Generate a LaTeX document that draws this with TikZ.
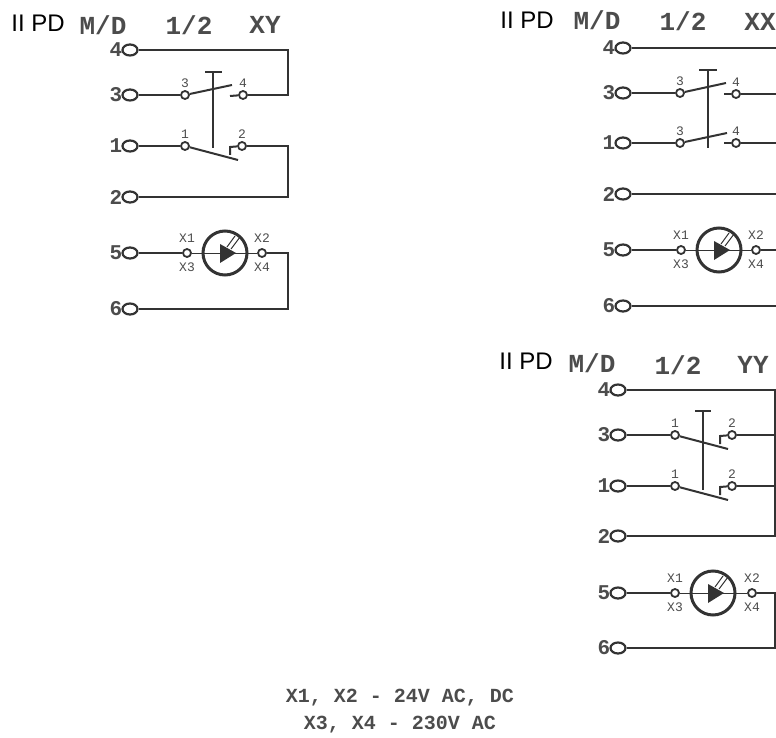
\documentclass[tikz,border=0pt]{standalone}
\usepackage{fontspec}
\setmainfont{Liberation Sans}
\setmonofont{Liberation Mono}
\usetikzlibrary{positioning, shapes.geometric}
\definecolor{inkgray}{gray}{0.2}
\definecolor{textgray}{gray}{0.3}
\newcommand{\lampmark}[1]{
    \begin{scope}[shift={(#1)}]
        \fill [inkgray] (-5,-9) -- (11,0) -- (-5,10) -- cycle;
        \draw [inkgray, line width=1pt] (2,-6) -- (10,-17);
        \draw [inkgray, line width=1pt] (6,-4) -- (15,-16);
    \end{scope}
}
\tikzset{
    wire/.style={draw=inkgray, line width=2pt},
    term/.style={draw=inkgray, ellipse, line width=2.2pt, minimum width=15pt, minimum height=11pt, inner sep=0pt, label={[rowlabel]left:#1}},
    rowlabel/.style={font=\fontsize{21}{21}\ttfamily\bfseries, text=textgray, inner sep=0pt, label distance=-1pt},
    pin/.style={draw=inkgray, circle, line width=1.8pt, minimum size=8pt, inner sep=0pt, label={[pinlabel]above:#1}},
    pinlabel/.style={font=\fontsize{13}{13}\ttfamily, text=textgray, inner sep=0pt, label distance=2pt},
    xpin/.style 2 args={draw=inkgray, circle, line width=1.8pt, minimum size=8pt, inner sep=0pt, label={[pinlabel, label distance=5pt]above:#1}, label={[pinlabel, label distance=5pt]below:#2}},
    lampbox/.style={draw=inkgray, circle, line width=3pt, minimum size=44pt, inner sep=0pt},
    head/.style={font=\fontsize{26}{26}\ttfamily\bfseries, text=textgray, inner sep=0pt},
    kind/.style={font=\fontsize{24}{24}\selectfont, inner sep=0pt},
    note/.style={font=\fontsize{20}{20}\ttfamily\bfseries, text=textgray, inner sep=0pt}
}

\begin{document}
\begin{tikzpicture}[x=1pt, y=-1pt]
    \useasboundingbox (0,0) rectangle (776,738);

    % XY panel
    \node [kind] (xykind) at (38,23) {II PD};
    \node [head] (xyhead1) at (103,25) {M/D};
    \node [head] (xyhead2) at (189,25) {1/2};
    \node [head] (xyhead3) at (265,25) {XY};
    \node [term=4] (xy4) at (130,50) {};
    \node [term=3] (xy3) at (130,95) {};
    \node [term=1] (xy1) at (130,146) {};
    \node [term=2] (xy2) at (130,197) {};
    \node [term=5] (xy5) at (130,253) {};
    \node [term=6] (xy6) at (130,309) {};
    \node [pin=3] (xya3) at (185,95) {};
    \node [pin=4] (xyb3) at (243,95) {};
    \node [pin=1] (xya1) at (185,146) {};
    \node [pin=2] (xyb1) at (242,146) {};
    \node [xpin={X1}{X3}] (xyx1) at (187,253) {};
    \node [xpin={X2}{X4}] (xyx2) at (262,253) {};
    \node [lampbox] (xylamp) at (225,253) {};
    \coordinate (xyedge) at (288,0);
    \coordinate (xylever3) at (232,85);
    \coordinate (xylever1) at (238,160);
    \coordinate (xystub) at (230,96);
    \coordinate (xyhook1) at (230,147);
    \coordinate (xyhook2) at (230,155);
    \coordinate (xytop) at (213,72);
    \coordinate (xylow) at (213,148);
    \draw [wire] (xy4) -- (xy4 -| xyedge) -- (xyb3 -| xyedge) -- (xyb3);
    \draw [wire] (xy3) -- (xya3);
    \draw [wire] (xya3) -- (xylever3);
    \draw [wire] (xyb3) -- (xystub);
    \draw [wire] (xy1) -- (xya1);
    \draw [wire] (xya1) -- (xylever1);
    \draw [wire] (xyb1) -- (xyhook1) -- (xyhook2);
    \draw [wire] (xyb1) -- (xyb1 -| xyedge) -- (xy2 -| xyedge) -- (xy2);
    \draw [wire, line width=1.3pt] (xytop) -- (xylow);
    \draw [wire, line width=2.4pt] ([xshift=-8pt]xytop) -- ([xshift=9pt]xytop);
    \draw [wire] (xy5) -- (xyx1);
    \draw [wire, line width=1pt] (xyx1) -- (xyx2);
    \draw [wire] (xyx2) -- (xyx2 -| xyedge) -- (xy6 -| xyedge) -- (xy6);
    \lampmark{xylamp}

    % XX panel
    \node [kind] (xxkind) at (527,20) {II PD};
    \node [head] (xxhead1) at (597,20) {M/D};
    \node [head] (xxhead2) at (683,21) {1/2};
    \node [head] (xxhead3) at (760,22) {XX};
    \node [term=4] (xx4) at (623,48) {};
    \node [term=3] (xx3) at (623,93) {};
    \node [term=1] (xx1) at (623,143) {};
    \node [term=2] (xx2) at (623,194) {};
    \node [term=5] (xx5) at (623,250) {};
    \node [term=6] (xx6) at (623,306) {};
    \node [pin=3] (xxa3) at (680,93) {};
    \node [pin=4] (xxb3) at (736,94) {};
    \node [pin=3] (xxa1) at (680,143) {};
    \node [pin=4] (xxb1) at (736,143) {};
    \node [xpin={X1}{X3}] (xxx1) at (681,250) {};
    \node [xpin={X2}{X4}] (xxx2) at (756,250) {};
    \node [lampbox] (xxlamp) at (719,250) {};
    \coordinate (xxedge) at (776,0);
    \coordinate (xxlever3) at (726,83);
    \coordinate (xxlever1) at (727,133);
    \coordinate (xxstub3) at (724,94);
    \coordinate (xxstub1) at (724,143);
    \coordinate (xxtop) at (708,70);
    \coordinate (xxlow) at (708,148);
    \draw [wire] (xx4) -- (xx4 -| xxedge);
    \draw [wire] (xx3) -- (xxa3);
    \draw [wire] (xxa3) -- (xxlever3);
    \draw [wire] (xxb3) -- (xxstub3);
    \draw [wire] (xxb3) -- (xxb3 -| xxedge);
    \draw [wire] (xx1) -- (xxa1);
    \draw [wire] (xxa1) -- (xxlever1);
    \draw [wire] (xxb1) -- (xxstub1);
    \draw [wire] (xxb1) -- (xxb1 -| xxedge);
    \draw [wire] (xx2) -- (xx2 -| xxedge);
    \draw [wire, line width=1.3pt] (xxtop) -- (xxlow);
    \draw [wire, line width=2.4pt] ([xshift=-9pt]xxtop) -- ([xshift=9pt]xxtop);
    \draw [wire] (xx5) -- (xxx1);
    \draw [wire, line width=1pt] (xxx1) -- (xxx2);
    \draw [wire] (xxx2) -- (xxx2 -| xxedge);
    \draw [wire] (xx6) -- (xx6 -| xxedge);
    \lampmark{xxlamp}

    % YY panel
    \node [kind] (yykind) at (526,361) {II PD};
    \node [head] (yyhead1) at (592,363) {M/D};
    \node [head] (yyhead2) at (678,365) {1/2};
    \node [head] (yyhead3) at (753,365) {YY};
    \node [term=4] (yy4) at (618,390) {};
    \node [term=3] (yy3) at (618,435) {};
    \node [term=1] (yy1) at (618,486) {};
    \node [term=2] (yy2) at (618,536) {};
    \node [term=5] (yy5) at (618,593) {};
    \node [term=6] (yy6) at (618,648) {};
    \node [pin=1] (yya3) at (675,435) {};
    \node [pin=2] (yyb3) at (732,435) {};
    \node [pin=1] (yya1) at (675,486) {};
    \node [pin=2] (yyb1) at (732,486) {};
    \node [xpin={X1}{X3}] (yyx1) at (675,593) {};
    \node [xpin={X2}{X4}] (yyx2) at (752,593) {};
    \node [lampbox] (yylamp) at (713,593) {};
    \coordinate (yyedge) at (775,0);
    \coordinate (yylever3) at (728,449);
    \coordinate (yylever1) at (728,500);
    \coordinate (yyhook3a) at (720,436);
    \coordinate (yyhook3b) at (720,444);
    \coordinate (yyhook1a) at (720,487);
    \coordinate (yyhook1b) at (720,495);
    \coordinate (yytop) at (703,411);
    \coordinate (yylow) at (703,490);
    \draw [wire] (yy4) -- (yy4 -| yyedge) -- (yy2 -| yyedge) -- (yy2);
    \draw [wire] (yy3) -- (yya3);
    \draw [wire] (yya3) -- (yylever3);
    \draw [wire] (yyb3) -- (yyhook3a) -- (yyhook3b);
    \draw [wire] (yyb3) -- (yyb3 -| yyedge);
    \draw [wire] (yy1) -- (yya1);
    \draw [wire] (yya1) -- (yylever1);
    \draw [wire] (yyb1) -- (yyhook1a) -- (yyhook1b);
    \draw [wire] (yyb1) -- (yyb1 -| yyedge);
    \draw [wire, line width=1.3pt] (yytop) -- (yylow);
    \draw [wire, line width=2.4pt] ([xshift=-8pt]yytop) -- ([xshift=8pt]yytop);
    \draw [wire] (yy5) -- (yyx1);
    \draw [wire, line width=1pt] (yyx1) -- (yyx2);
    \draw [wire] (yyx2) -- (yyx2 -| yyedge) -- (yy6 -| yyedge) -- (yy6);
    \lampmark{yylamp}

    \node [note] (note1) at (400,698) {X1, X2 - 24V AC, DC};
    \node [note] (note2) at (400,725) {X3, X4 - 230V AC};
\end{tikzpicture}
\end{document}
